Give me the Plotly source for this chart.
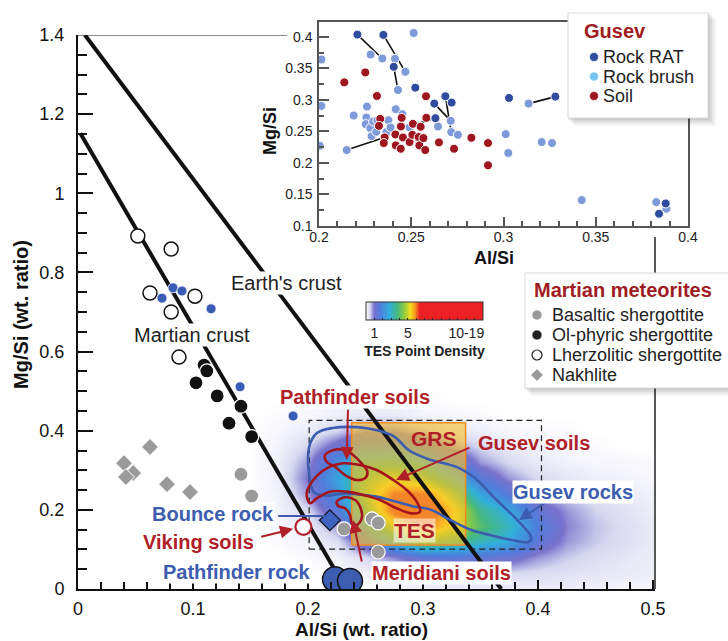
import plotly.graph_objects as go

FONT = "Liberation Sans, Arial, Helvetica, sans-serif"
RED = "#B01E27"
DRED = "#A3141C"
BLUE = "#3C5DB0"
RAT_C = "#2F4C9E"
BRUSH_C = "#7E9AD8"
BRUSH_LEG = "#74C4EE"
SOIL_C = "#9E1620"
GRAY = "#9A9A9A"

# ---------------- TES point density ----------------
tes_x = [0.15, 0.175, 0.2, 0.225, 0.25, 0.275, 0.3, 0.325, 0.35, 0.375, 0.4, 0.425, 0.45, 0.475, 0.5]
tes_y = [0.0, 0.04, 0.08, 0.12, 0.16, 0.20, 0.24, 0.28, 0.32, 0.36, 0.40, 0.44, 0.48]
tes_z = [
    [0, 0, 0, 0, 0, 0.1, 0.15, 0.2, 0.2, 0.2, 0.2, 0.2, 0.15, 0.1, 0.1],
    [0, 0, 0, 0.05, 0.15, 0.3, 0.4, 0.45, 0.45, 0.45, 0.4, 0.35, 0.3, 0.25, 0.2],
    [0, 0, 0.05, 0.15, 0.45, 0.9, 1.4, 1.5, 1.4, 1.2, 0.8, 0.55, 0.4, 0.3, 0.2],
    [0, 0.05, 0.15, 0.4, 1.4, 3.0, 4.2, 3.8, 3.2, 2.7, 1.4, 0.8, 0.55, 0.4, 0.25],
    [0, 0.1, 0.25, 0.8, 2.6, 5.0, 6.5, 5.2, 4.0, 3.1, 1.7, 0.9, 0.6, 0.4, 0.25],
    [0, 0.15, 0.45, 1.5, 3.8, 6.8, 7.5, 5.5, 3.6, 2.6, 1.3, 0.8, 0.5, 0.35, 0.2],
    [0, 0.15, 0.8, 2.2, 4.5, 6.5, 6.5, 4.5, 2.6, 1.5, 0.8, 0.5, 0.35, 0.25, 0.15],
    [0, 0.2, 1.0, 2.5, 4.2, 5.0, 4.4, 3.0, 1.5, 0.8, 0.45, 0.3, 0.2, 0.15, 0.1],
    [0, 0.2, 0.8, 2.1, 3.3, 3.5, 2.9, 1.7, 0.8, 0.45, 0.25, 0.15, 0.1, 0.1, 0.05],
    [0, 0.15, 0.5, 1.2, 2.0, 2.1, 1.5, 0.8, 0.45, 0.25, 0.15, 0.1, 0.05, 0, 0],
    [0, 0.1, 0.25, 0.5, 0.9, 0.9, 0.6, 0.35, 0.2, 0.1, 0.05, 0.05, 0, 0, 0],
    [0, 0.05, 0.1, 0.2, 0.3, 0.25, 0.15, 0.1, 0.05, 0, 0, 0, 0, 0, 0],
    [0, 0, 0.05, 0.1, 0.1, 0.1, 0.05, 0, 0, 0, 0, 0, 0, 0, 0],
]
cbar_vals = list(range(1, 14))
cbar_text = ["1", "", "", "", "5", "", "", "", "", "", "", "10-19", ""]

# boxes
grs_x = [0.238, 0.337]
grs_y = [0.111, 0.420]
tesbox_x = [0.201, 0.403]
tesbox_y = [0.101, 0.426]

# crust lines
earth_x = [0.006, 0.368]
earth_y = [1.400, 0.0]
mars_x = [0.002, 0.232]
mars_y = [1.152, 0.005]

# contours
gusev_rock_x = [0.2017, 0.2010, 0.2078, 0.2217, 0.2426, 0.2600, 0.2750, 0.2880, 0.3050, 0.3296, 0.3440,
                0.3640, 0.3820, 0.3940, 0.3920, 0.3765, 0.3590, 0.3420, 0.3240, 0.3070, 0.2900, 0.2750,
                0.2580, 0.2400, 0.2280, 0.2140, 0.2050, 0.2017]
gusev_rock_y = [0.2755, 0.3590, 0.3940, 0.4070, 0.4090, 0.4010, 0.3850, 0.3500, 0.3280, 0.3080, 0.2830,
                0.2250, 0.1740, 0.1310, 0.1190, 0.1240, 0.1360, 0.1490, 0.1740, 0.2000, 0.2100, 0.2220,
                0.2340, 0.2400, 0.2400, 0.2360, 0.2450, 0.2755]
gusev_soil_x = [0.2017, 0.1988, 0.2046, 0.2162, 0.2307, 0.2452, 0.2597, 0.2742, 0.2858, 0.2945, 0.2974,
                0.2900, 0.2770, 0.2626, 0.2480, 0.2336, 0.2190, 0.2075, 0.2017]
gusev_soil_y = [0.2166, 0.2418, 0.2755, 0.3050, 0.3176, 0.3134, 0.3007, 0.2755, 0.2500, 0.2207, 0.1954,
                0.1910, 0.2040, 0.2250, 0.2376, 0.2460, 0.2460, 0.2290, 0.2166]
pf_soil_x = [0.2148, 0.2250, 0.2350, 0.2452, 0.2516, 0.2496, 0.2423, 0.2322, 0.2235, 0.2162, 0.2148]
pf_soil_y = [0.3386, 0.3530, 0.3470, 0.3217, 0.2965, 0.2797, 0.2755, 0.2880, 0.3090, 0.3217, 0.3386]
mer_soil_x = [0.2250, 0.2322, 0.2409, 0.2458, 0.2467, 0.2423, 0.2380, 0.2365, 0.2322, 0.2263, 0.2250]
mer_soil_y = [0.2207, 0.2317, 0.2250, 0.2040, 0.1786, 0.1617, 0.1660, 0.1870, 0.2040, 0.2098, 0.2207]

# Martian meteorites
basaltic_x = [0.1417, 0.1510, 0.2313, 0.2557, 0.2610, 0.2610]
basaltic_y = [0.290, 0.235, 0.152, 0.177, 0.167, 0.0935]
olphyric_x = [0.1096, 0.1120, 0.1026, 0.1210, 0.1417, 0.1313, 0.1510]
olphyric_y = [0.566, 0.551, 0.521, 0.488, 0.462, 0.419, 0.385]
lherz_x = [0.052, 0.081, 0.0626, 0.1017, 0.081, 0.0878]
lherz_y = [0.892, 0.859, 0.748, 0.740, 0.700, 0.586]
nakhlite_x = [0.040, 0.0626, 0.048, 0.0417, 0.0774, 0.0974]
nakhlite_y = [0.318, 0.359, 0.293, 0.283, 0.265, 0.245]

# other rocks/soils on the main plot
gusev_main_x = [0.073, 0.0826, 0.0904, 0.1157, 0.1409, 0.187]
gusev_main_y = [0.735, 0.761, 0.753, 0.708, 0.511, 0.437]
viking_x = [0.196]
viking_y = [0.157]
bounce_x = [0.219]
bounce_y = [0.174]
pfrock_x = [0.2235, 0.2365]
pfrock_y = [0.0245, 0.020]

# ---------------- inset: Gusev ----------------
rat_x = [0.2208, 0.2349, 0.2405, 0.2522, 0.2625, 0.2685, 0.2719, 0.2631, 0.3030, 0.3281, 0.3879, 0.3843]
rat_y = [0.4037, 0.4032, 0.3526, 0.3195, 0.2942, 0.3058, 0.2958, 0.2711, 0.3032, 0.3053, 0.1358, 0.1195]
brush_x = [0.2013, 0.2013, 0.2004, 0.2150, 0.2188, 0.2260, 0.2280, 0.2343, 0.2412, 0.2468, 0.2428, 0.2513,
           0.2416, 0.2452, 0.2257, 0.2253, 0.2278, 0.2294, 0.2316, 0.2285, 0.2310, 0.2365, 0.2376, 0.2388,
           0.2491, 0.2645, 0.2714, 0.2717, 0.2753, 0.3136, 0.3012, 0.3026, 0.3207, 0.3263, 0.3424, 0.3828,
           0.3883]
brush_y = [0.3642, 0.2905, 0.2274, 0.2205, 0.2753, 0.2895, 0.3721, 0.3658, 0.3653, 0.3447, 0.3158, 0.4063,
           0.2853, 0.2774, 0.2721, 0.2616, 0.2553, 0.2658, 0.2674, 0.2426, 0.2495, 0.2489, 0.2679, 0.2563,
           0.2563, 0.2579, 0.2668, 0.2489, 0.2447, 0.2942, 0.2458, 0.2158, 0.2332, 0.2316, 0.1411, 0.1379,
           0.1274]
soil_x = [0.2137, 0.2251, 0.2314, 0.2580, 0.2582, 0.2332, 0.2325, 0.2356, 0.2351, 0.2414, 0.2444, 0.2416,
          0.2443, 0.2455, 0.2491, 0.2506, 0.2509, 0.2540, 0.2544, 0.2551, 0.2566, 0.2576, 0.2650, 0.2732,
          0.2826, 0.2916, 0.2916, 0.2448]
soil_y = [0.3279, 0.3437, 0.3063, 0.3058, 0.2716, 0.2700, 0.2589, 0.2405, 0.2316, 0.2453, 0.2579, 0.2279,
          0.2226, 0.2405, 0.2332, 0.2447, 0.2621, 0.2411, 0.2279, 0.2574, 0.2395, 0.2205, 0.2326, 0.2226,
          0.2400, 0.2316, 0.1963, 0.2716]
# RAT-brush tie lines
tie_x = [0.2208, 0.2343, None, 0.2349, 0.2468, None, 0.2405, 0.2428, None, 0.2625, 0.2714, None,
         0.2685, 0.2717, None, 0.3136, 0.3281, None, 0.2150, 0.2345, None, 0.2527, 0.2631]
tie_y = [0.4037, 0.3658, None, 0.4032, 0.3447, None, 0.3526, 0.3158, None, 0.2942, 0.2668, None,
         0.3058, 0.2489, None, 0.2942, 0.3053, None, 0.2205, 0.2395, None, 0.2620, 0.2711]

# ---------------- geometry helpers (layout only) ----------------
ML, MR, MT, MB = 78, 20, 10, 52
W, H = 728, 641
PW, PH = W - ML - MR, H - MT - MB


def px(xp):
    return (xp - ML) / PW


def py(yp):
    return (H - MB - yp) / PH


fig = go.Figure()

# density
fig.add_trace(go.Heatmap(
    x=tes_x, y=tes_y, z=tes_z, zmin=0, zmax=14, zsmooth="best", hoverinfo="skip",
    colorscale=[[0, "rgb(255,255,255)"], [0.035, "rgb(214,214,240)"], [0.07, "rgb(120,114,205)"],
                [0.12, "rgb(80,125,220)"], [0.20, "rgb(50,175,220)"], [0.27, "rgb(70,185,125)"],
                [0.33, "rgb(150,205,60)"], [0.38, "rgb(245,222,30)"], [0.42, "rgb(245,150,30)"],
                [0.46, "rgb(236,32,36)"], [1, "rgb(236,32,36)"]],
    colorbar=dict(orientation="h", x=px(366), xanchor="left",
                  y=py(302), yanchor="top", len=117, lenmode="pixels", thickness=18,
                  xpad=0, ypad=0, outlinecolor="#333", outlinewidth=1,
                  tickvals=cbar_vals, ticktext=cbar_text, ticks="inside", ticklen=2, tickcolor="#222",
                  tickfont=dict(size=14, family=FONT, color="#222"),
                  title=dict(text="<b>TES Point Density</b>", side="bottom",
                             font=dict(size=14, family=FONT, color="#222"))),
))

# GRS box
fig.add_trace(go.Scatter(
    x=[grs_x[0], grs_x[1], grs_x[1], grs_x[0], grs_x[0]],
    y=[grs_y[0], grs_y[0], grs_y[1], grs_y[1], grs_y[0]],
    mode="lines", fill="toself", fillcolor="rgba(250,196,45,0.62)",
    line=dict(color="#F28A22", width=1.5), hoverinfo="skip", showlegend=False))
# TES dashed box
fig.add_trace(go.Scatter(
    x=[tesbox_x[0], tesbox_x[1], tesbox_x[1], tesbox_x[0], tesbox_x[0]],
    y=[tesbox_y[0], tesbox_y[0], tesbox_y[1], tesbox_y[1], tesbox_y[0]],
    mode="lines", line=dict(color="#222", width=1.2, dash="6px,4px"), hoverinfo="skip", showlegend=False))

# crust lines
for lx, ly in ((earth_x, earth_y), (mars_x, mars_y)):
    fig.add_trace(go.Scatter(x=lx, y=ly, mode="lines", line=dict(color="#111", width=4),
                             hoverinfo="skip", showlegend=False))

# contours
fig.add_trace(go.Scatter(x=gusev_rock_x, y=gusev_rock_y, mode="lines",
                         line=dict(color=BLUE, width=2.6, shape="spline", smoothing=1.0),
                         hoverinfo="skip", showlegend=False))
for cx, cy in ((gusev_soil_x, gusev_soil_y), (pf_soil_x, pf_soil_y), (mer_soil_x, mer_soil_y)):
    fig.add_trace(go.Scatter(x=cx, y=cy, mode="lines",
                             line=dict(color=DRED, width=2.6, shape="spline", smoothing=1.0),
                             hoverinfo="skip", showlegend=False))

# meteorites
fig.add_trace(go.Scatter(x=nakhlite_x, y=nakhlite_y, mode="markers", showlegend=False,
                         marker=dict(symbol="diamond", size=13, color=GRAY, line=dict(color="white", width=1))))
fig.add_trace(go.Scatter(x=basaltic_x, y=basaltic_y, mode="markers", showlegend=False,
                         marker=dict(size=14, color=GRAY, line=dict(color="white", width=1.2))))
fig.add_trace(go.Scatter(x=olphyric_x, y=olphyric_y, mode="markers", showlegend=False,
                         marker=dict(size=14, color="#111", line=dict(color="white", width=1.2))))
fig.add_trace(go.Scatter(x=lherz_x, y=lherz_y, mode="markers", showlegend=False,
                         marker=dict(size=14, color="white", line=dict(color="#111", width=1.5))))
fig.add_trace(go.Scatter(x=gusev_main_x, y=gusev_main_y, mode="markers", showlegend=False,
                         marker=dict(size=10, color="#3A5CB4", line=dict(color="white", width=0.8))))
fig.add_trace(go.Scatter(x=viking_x, y=viking_y, mode="markers", showlegend=False,
                         marker=dict(size=16, color="white", line=dict(color=RED, width=2.2))))
fig.add_trace(go.Scatter(x=bounce_x, y=bounce_y, mode="markers", showlegend=False,
                         marker=dict(symbol="diamond", size=16, color="#3F63C0", opacity=1,
                                     line=dict(color="#111", width=1.2))))
fig.add_trace(go.Scatter(x=pfrock_x, y=pfrock_y, mode="markers", showlegend=False,
                         marker=dict(size=25, color="#3C5DB0", line=dict(color="#111", width=1.5))))

# inset
fig.add_trace(go.Scatter(x=tie_x, y=tie_y, mode="lines", xaxis="x2", yaxis="y2", showlegend=False,
                         line=dict(color="#111", width=1.6), hoverinfo="skip"))
fig.add_trace(go.Scatter(x=brush_x, y=brush_y, mode="markers", xaxis="x2", yaxis="y2", name="Rock brush",
                         showlegend=False, marker=dict(size=9, color=BRUSH_C, line=dict(color="white", width=1))))
fig.add_trace(go.Scatter(x=soil_x, y=soil_y, mode="markers", xaxis="x2", yaxis="y2", name="Soil",
                         showlegend=False, marker=dict(size=9, color=SOIL_C, line=dict(color="white", width=1))))
fig.add_trace(go.Scatter(x=rat_x, y=rat_y, mode="markers", xaxis="x2", yaxis="y2", name="Rock RAT",
                         showlegend=False, marker=dict(size=9, color=RAT_C, line=dict(color="white", width=1))))

# ---------------- annotations ----------------
ann = []


def label(text, x, y, color, size=20, bold=True, bg=None):
    t = "<b>%s</b>" % text if bold else text
    d = dict(x=x, y=y, xref="x", yref="y", text=t, showarrow=False, xanchor="center", yanchor="middle",
             font=dict(size=size, color=color, family=FONT), borderpad=0)
    if bg:
        d["bgcolor"] = bg
    ann.append(d)


def arrow(hx, hy, tx, ty, color):
    ann.append(dict(x=hx, y=hy, ax=tx, ay=ty, xref="x", yref="y", axref="x", ayref="y", text="",
                    showarrow=True, arrowhead=2, arrowsize=1.3, arrowwidth=2, arrowcolor=color, standoff=0))


arrow(0.2336, 0.326, 0.2348, 0.457, RED)
arrow(0.2765, 0.2755, 0.3417, 0.359, RED)
arrow(0.3835, 0.1744, 0.4096, 0.225, BLUE)
arrow(0.239, 0.1744, 0.247, 0.0657, RED)
arrow(0.187, 0.152, 0.158, 0.131, RED)

label("Earth's crust", 0.181, 0.773, "#222", bold=False, bg="white")
label("Martian crust", 0.099, 0.642, "#222", bold=False, bg="white")
label("Pathfinder soils", 0.241, 0.485, RED, bg="white")
label("GRS", 0.3096, 0.3816, RED, size=21)
label("Gusev soils", 0.3965, 0.369, RED)
label("Gusev rocks", 0.4304, 0.245, BLUE, bg="white")
label("TES", 0.293, 0.1466, RED, size=21, bg="rgba(255,255,255,0.55)")
label("Meridiani soils", 0.3157, 0.0404, RED, bg="white")
label("Bounce rock", 0.1174, 0.1895, BLUE, bg="white")
label("Viking soils", 0.105, 0.119, RED, bg="white")
label("Pathfinder rock", 0.138, 0.043, BLUE, bg="white")


def ptext(text, xp, yp, size, color="#222", xanchor="left", angle=0):
    ann.append(dict(x=px(xp), y=py(yp), xref="paper", yref="paper", text=text, showarrow=False,
                    xanchor=xanchor, yanchor="middle", textangle=angle,
                    font=dict(size=size, color=color, family=FONT)))


# axis titles
ptext("<b>Al/Si (wt. ratio)</b>", 361, 629, 19, "#111", "center")
ptext("<b>Mg/Si (wt. ratio)</b>", 21, 315, 20, "#111", "center", -90)
ptext("<b>Al/Si</b>", 494, 258, 18, "#111", "center")
ptext("<b>Mg/Si</b>", 270, 131, 18, "#111", "center", -90)

# legends (text)
ptext("<b>Gusev</b>", 582, 31, 20, "#A01C22")
gusev_leg = [("Rock RAT", RAT_C, 57), ("Rock brush", BRUSH_LEG, 76.5), ("Soil", SOIL_C, 96)]
for name, c, yy in gusev_leg:
    ptext(name, 601, yy, 18)
ptext("<b>Martian meteorites</b>", 532, 290, 20, "#A01C22")
mm_leg = [("Basaltic shergottite", 315), ("Ol-phyric shergottite", 335),
          ("Lherzolitic shergottite", 355), ("Nakhlite", 375)]
for name, yy in mm_leg:
    ptext(name, 550, yy, 18)

# ---------------- shapes ----------------
shapes = []
# frame pieces
shapes.append(dict(type="line", xref="x", yref="y", x0=0, x1=0.1817, y0=1.4, y1=1.4,
                   line=dict(color="#8a8a8a", width=2), layer="below"))
shapes.append(dict(type="line", xref="x domain", yref="y", x0=1, x1=1, y0=0, y1=0.8896,
                   line=dict(color="#222", width=1.5), layer="above"))
# Bounce rock leader
shapes.append(dict(type="line", xref="x", yref="y", x0=0.174, x1=0.2148, y0=0.1845, y1=0.1845,
                   line=dict(color=BLUE, width=2), layer="above"))


def box(x0, y0, x1, y1):
    for off, a in ((8, 0.04), (6, 0.05), (4, 0.06), (2, 0.07)):
        shapes.append(dict(type="rect", xref="paper", yref="paper", x0=px(x0 + off - 2), x1=px(x1 + off),
                           y0=py(y1 + off), y1=py(y0 + off - 2), fillcolor="rgba(0,0,0,%g)" % a,
                           line=dict(width=0), layer="above"))
    shapes.append(dict(type="rect", xref="paper", yref="paper", x0=px(x0), x1=px(x1), y0=py(y1), y1=py(y0),
                       fillcolor="white", line=dict(color="#d8d8d8", width=1), layer="above"))


box(568, 13, 708, 118)
box(525, 273, 745, 388)


def dot(xp, yp, r, fill, edge="white", ew=0.6, symbol="circle"):
    if symbol == "circle":
        shapes.append(dict(type="circle", xref="paper", yref="paper", xsizemode="pixel", ysizemode="pixel",
                           xanchor=px(xp), yanchor=py(yp), x0=-r, x1=r, y0=-r, y1=r,
                           fillcolor=fill, line=dict(color=edge, width=ew), layer="above"))
    else:
        shapes.append(dict(type="path", xref="paper", yref="paper", xsizemode="pixel", ysizemode="pixel",
                           xanchor=px(xp), yanchor=py(yp),
                           path="M 0 %g L %g 0 L 0 %g L %g 0 Z" % (r * 1.25, r * 1.25, -r * 1.25, -r * 1.25),
                           fillcolor=fill, line=dict(color=edge, width=ew), layer="above"))


for name, c, yy in gusev_leg:
    dot(594, yy, 4.5, c)
dot(537, 315, 5, GRAY)
dot(537, 335, 5, "#222")
dot(537, 355, 5, "white", "#222", 1.2)
dot(537, 375, 5, GRAY, symbol="diamond")

# ---------------- layout ----------------
tickfont = dict(size=18, family=FONT, color="#111")
fig.update_layout(
    width=W, height=H, margin=dict(l=ML, r=MR, t=MT, b=MB, autoexpand=False),
    paper_bgcolor="white", plot_bgcolor="white", showlegend=False,
    font=dict(family=FONT, color="#111"),
    xaxis=dict(domain=[0, px(655)], range=[0, 0.5017], tick0=0, dtick=0.1, showgrid=False, zeroline=False,
               showline=True, linecolor="#111", linewidth=2, ticks="inside", ticklen=9, tickwidth=1.5,
               tickcolor="#111", minor=dict(dtick=0.02, ticks="inside", ticklen=7, tickwidth=1.5, tickcolor="#111"),
               tickfont=tickfont, ticklabelstandoff=2),
    yaxis=dict(domain=[0, py(35)], range=[0, 1.4], tick0=0, dtick=0.2, showgrid=False, zeroline=False,
               showline=True, linecolor="#111", linewidth=2, ticks="inside", ticklen=15, tickwidth=2,
               tickcolor="#111", minor=dict(dtick=0.05, ticks="inside", ticklen=9, tickwidth=2, tickcolor="#111"),
               tickfont=tickfont, ticklabelstandoff=8),
    xaxis2=dict(domain=[px(319), px(688)], range=[0.2, 0.4], anchor="y2", dtick=0.05, showgrid=False,
                zeroline=False, showline=True, mirror=True, linecolor="#555", linewidth=1.5, ticks="inside",
                ticklen=9, tickcolor="#555", tickwidth=1.5,
                minor=dict(dtick=0.01, ticks="inside", ticklen=5, tickcolor="#555", tickwidth=1.5),
                tickfont=dict(size=14, family=FONT, color="#222"), ticklabelstandoff=-3),
    yaxis2=dict(domain=[py(226), py(22)], range=[0.1, 0.4237], anchor="x2", dtick=0.05, showgrid=False,
                zeroline=False, showline=True, mirror=True, linecolor="#555", linewidth=1.5, ticks="inside",
                ticklen=10, tickcolor="#555", tickwidth=1.5,
                minor=dict(dtick=0.025, ticks="inside", ticklen=5, tickcolor="#555", tickwidth=1.5),
                tickfont=dict(size=14, family=FONT, color="#222"), ticklabelstandoff=2),
    annotations=ann, shapes=shapes,
)

fig.write_html("out.html")
